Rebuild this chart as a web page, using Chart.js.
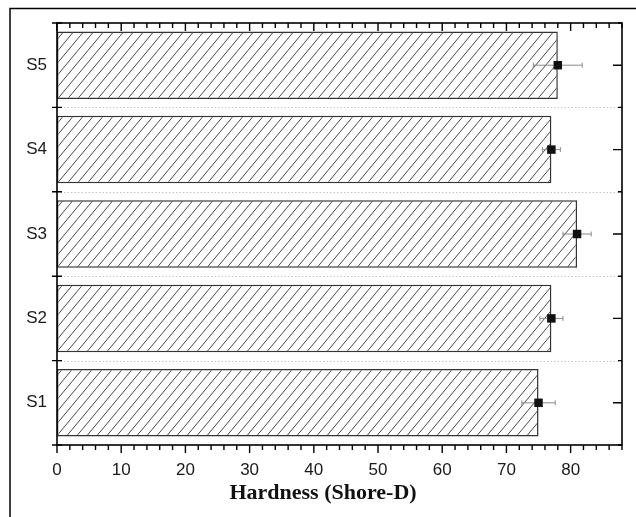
<!DOCTYPE html>
<html><head><meta charset="utf-8">
<script src="https://cdn.jsdelivr.net/npm/chart.js@4.4.1/dist/chart.umd.min.js"></script>
<style>html,body{margin:0;padding:0;background:#fff;} canvas{display:block;}</style>
</head><body>
<canvas id="c" width="636" height="517"></canvas>
<script>
// ---- data ----
const categories = ['S1', 'S2', 'S3', 'S4', 'S5'];
const hardness = [75, 77, 81, 77, 78];
const hardnessError = [2.6, 1.8, 2.2, 1.4, 3.8];
const xTickValues = [0, 10, 20, 30, 40, 50, 60, 70, 80];
const xMinorStep = 2;
const xMin = 0;
const xMax = 88;
const xTitle = 'Hardness (Shore-D)';

function makeHatch() {
  const w = 10, h = 12;
  const c = document.createElement('canvas');
  c.width = w; c.height = h;
  const g = c.getContext('2d');
  g.fillStyle = '#fff'; g.fillRect(0, 0, w, h);
  g.strokeStyle = '#4a4a4a'; g.lineWidth = 1;
  g.beginPath();
  for (const [dx, dy] of [[-w, 0], [0, 0], [w, 0], [0, -h], [0, h], [-w, h], [w, -h]]) {
    g.moveTo(dx, dy + h); g.lineTo(dx + w, dy);
  }
  g.stroke();
  return document.getElementById('c').getContext('2d').createPattern(c, 'repeat');
}

const decor = {
  id: 'decor',
  beforeDraw(chart) {
    const {ctx, width, height} = chart;
    ctx.save();
    ctx.fillStyle = '#fff'; ctx.fillRect(0, 0, width, height);
    ctx.strokeStyle = '#000'; ctx.lineWidth = 1.5;
    ctx.beginPath(); ctx.moveTo(10, height); ctx.lineTo(10, 8.5); ctx.lineTo(width, 8.5); ctx.stroke();
    ctx.restore();
  },
  beforeDatasetsDraw(chart) {
    const {ctx, chartArea: a, scales: {y}} = chart;
    ctx.save();
    ctx.strokeStyle = '#c4c4c4'; ctx.lineWidth = 1; ctx.setLineDash([1.5, 2]);
    for (let i = 0; i < categories.length - 1; i++) {
      const py = Math.round(y.getPixelForValue(i + 0.5)) + 0.5;
      ctx.beginPath(); ctx.moveTo(a.left, py); ctx.lineTo(a.right, py); ctx.stroke();
    }
    ctx.restore();
  },
  afterDatasetDraw(chart, args) {
    if (args.index !== 0) return;
    const {ctx, scales: {x, y}} = chart;
    ctx.save();
    ctx.strokeStyle = '#8a8a8a'; ctx.lineWidth = 1;
    hardness.forEach((v, i) => {
      const py = y.getPixelForValue(i);
      const x1 = x.getPixelForValue(v - hardnessError[i]);
      const x2 = x.getPixelForValue(v + hardnessError[i]);
      ctx.beginPath();
      ctx.moveTo(x1, py); ctx.lineTo(x2, py);
      ctx.moveTo(x1, py - 2.5); ctx.lineTo(x1, py + 2.5);
      ctx.moveTo(x2, py - 2.5); ctx.lineTo(x2, py + 2.5);
      ctx.stroke();
    });
    ctx.restore();
  },
  afterDraw(chart) {
    const {ctx, chartArea: a, scales: {x, y}} = chart;
    ctx.save();
    ctx.strokeStyle = '#000'; ctx.lineWidth = 1.6;
    ctx.strokeRect(a.left, a.top, a.right - a.left, a.bottom - a.top);
    ctx.lineWidth = 1.4;
    ctx.beginPath();
    for (let v = xMin; v <= xMax; v += xMinorStep) {
      const px = x.getPixelForValue(v);
      const len = (v % 10 === 0) ? 8 : 5;
      ctx.moveTo(px, a.bottom); ctx.lineTo(px, a.bottom + len);
      ctx.moveTo(px, a.top); ctx.lineTo(px, a.top + len);
    }
    for (let i = 0; i <= categories.length; i++) {
      const py = y.getPixelForValue(i - 0.5);
      ctx.moveTo(a.left - 5, py); ctx.lineTo(a.left + 5, py);
      ctx.moveTo(a.right - 4, py); ctx.lineTo(a.right, py);
    }
    for (let i = 0; i < categories.length; i++) {
      const py = y.getPixelForValue(i);
      ctx.moveTo(a.right - 9, py); ctx.lineTo(a.right, py);
    }
    ctx.stroke();
    // axis title
    ctx.fillStyle = '#111';
    ctx.font = 'bold 22px "Liberation Serif", "Times New Roman", serif';
    ctx.textAlign = 'center';
    ctx.textBaseline = 'alphabetic';
    ctx.fillText(xTitle, 323, 499);
    ctx.restore();
  }
};

new Chart(document.getElementById('c'), {
  data: {
    labels: categories,
    datasets: [
      {
        type: 'bar',
        data: hardness,
        backgroundColor: makeHatch(),
        borderColor: '#333',
        borderWidth: 1.5,
        borderSkipped: false,
        categoryPercentage: 1,
        barPercentage: 0.8,
        order: 2
      },
      {
        type: 'line',
        indexAxis: 'y',
        data: hardness,
        showLine: false,
        pointStyle: 'rect',
        pointRadius: 6,
        pointBackgroundColor: '#111',
        pointBorderWidth: 0,
        order: 1
      }
    ]
  },
  options: {
    indexAxis: 'y',
    responsive: false,
    animation: false,
    events: [],
    layout: {padding: {left: 0, right: 14, top: 23, bottom: 0}},
    plugins: {legend: {display: false}, tooltip: {enabled: false}},
    scales: {
      x: {
        type: 'linear',
        position: 'bottom',
        min: xMin,
        max: xMax,
        grid: {display: false, drawTicks: false},
        border: {display: false},
        afterFit(s) { s.height = 72; },
        afterBuildTicks(s) { s.ticks = xTickValues.map(v => ({value: v})); },
        ticks: {
          includeBounds: false,
          padding: 15,
          color: '#1a1a1a',
          font: {family: '"Liberation Sans", Arial, sans-serif', size: 17}
        },
        title: {display: false, text: xTitle}
      },
      y: {
        type: 'category',
        reverse: true,
        offset: true,
        grid: {display: false, drawTicks: false},
        border: {display: false},
        afterFit(s) { s.width = 57; },
        ticks: {
          padding: 10,
          color: '#1a1a1a',
          font: {family: '"Liberation Sans", Arial, sans-serif', size: 17}
        }
      }
    }
  },
  plugins: [decor]
});
</script>
</body></html>
